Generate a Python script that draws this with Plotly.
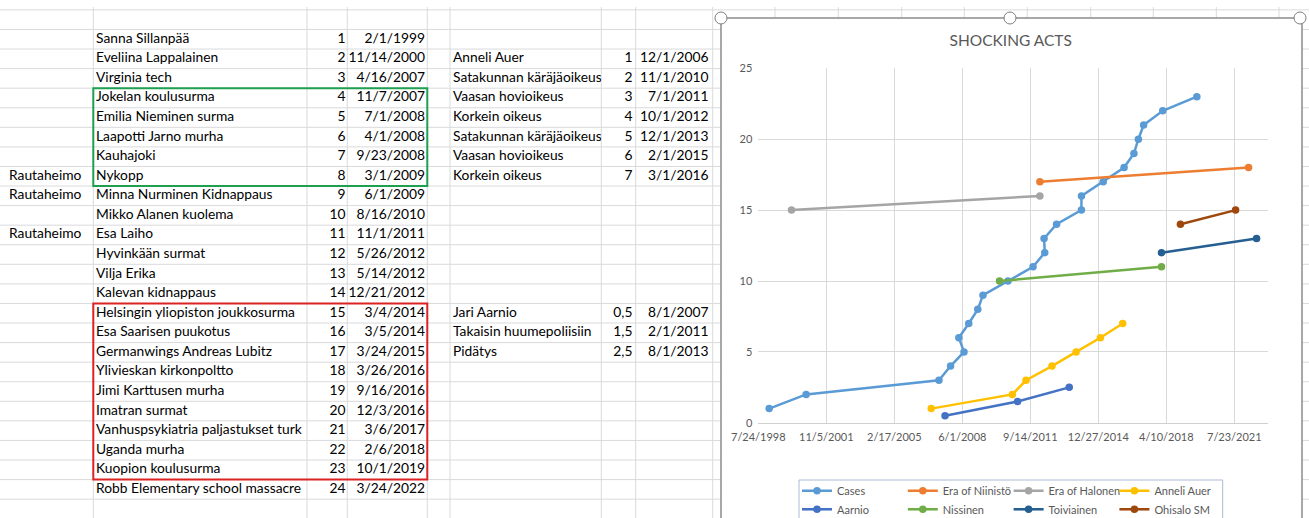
import datetime as dt
import plotly.graph_objects as go

W, H = 1309, 518

# ---------------- spreadsheet data ----------------
case_names = ["Sanna Sillanpää", "Eveliina Lappalainen", "Virginia tech", "Jokelan koulusurma",
              "Emilia Nieminen surma", "Laapotti Jarno murha", "Kauhajoki", "Nykopp",
              "Minna Nurminen Kidnappaus", "Mikko Alanen kuolema", "Esa Laiho", "Hyvinkään surmat",
              "Vilja Erika", "Kalevan kidnappaus", "Helsingin yliopiston joukkosurma",
              "Esa Saarisen puukotus", "Germanwings Andreas Lubitz", "Ylivieskan kirkonpoltto",
              "Jimi Karttusen murha", "Imatran surmat", "Vanhuspsykiatria paljastukset turk",
              "Uganda murha", "Kuopion koulusurma", "Robb Elementary school massacre"]
case_nums = [1, 2, 3, 4, 5, 6, 7, 8, 9, 10, 11, 12, 13, 14, 15, 16, 17, 18, 19, 20, 21, 22, 23, 24]
case_dates = ["2/1/1999", "11/14/2000", "4/16/2007", "11/7/2007", "7/1/2008", "4/1/2008",
              "9/23/2008", "3/1/2009", "6/1/2009", "8/16/2010", "11/1/2011", "5/26/2012",
              "5/14/2012", "12/21/2012", "3/4/2014", "3/5/2014", "3/24/2015", "3/26/2016",
              "9/16/2016", "12/3/2016", "3/6/2017", "2/6/2018", "10/1/2019", "3/24/2022"]
side_labels = ["Rautaheimo", "Rautaheimo", "Rautaheimo"]
side_case_rows = [8, 9, 11]

auer_labels = ["Anneli Auer", "Satakunnan käräjäoikeus", "Vaasan hovioikeus", "Korkein oikeus",
               "Satakunnan käräjäoikeus", "Vaasan hovioikeus", "Korkein oikeus"]
auer_nums = [1, 2, 3, 4, 5, 6, 7]
auer_dates = ["12/1/2006", "11/1/2010", "7/1/2011", "10/1/2012", "12/1/2013", "2/1/2015", "3/1/2016"]
auer_first_row = 2

aarnio_labels = ["Jari Aarnio", "Takaisin huumepoliisiin", "Pidätys"]
aarnio_vals = [0.5, 1.5, 2.5]
aarnio_dates = ["8/1/2007", "2/1/2011", "8/1/2013"]
aarnio_first_row = 15

# ---------------- chart-only series ----------------
niinisto_dates = ["2012-03-01", "2022-04-01"]
niinisto_vals = [17, 18]
halonen_dates = ["2000-03-01", "2012-03-01"]
halonen_vals = [15, 16]
nissinen_dates = ["2010-03-20", "2018-01-15"]
nissinen_vals = [10, 11]
toiviainen_dates = ["2018-01-15", "2022-08-20"]
toiviainen_vals = [12, 13]
ohisalo_dates = ["2018-12-15", "2021-08-15"]
ohisalo_vals = [14, 15]
cases_on_chart = 23

x_tick_dates = ["1998-07-24", "2001-11-05", "2005-02-17", "2008-06-01",
                "2011-09-14", "2014-12-27", "2018-04-10", "2021-07-23"]
x_tick_text = ["7/24/1998", "11/5/2001", "2/17/2005", "6/1/2008",
               "9/14/2011", "12/27/2014", "4/10/2018", "7/23/2021"]
x_range = ["1998-07-24", "2023-03-15"]

colors = {"Cases": "#5B9BD5", "Era of Niinistö": "#ED7D31", "Era of Halonen": "#A5A5A5",
          "Anneli Auer": "#FFC000", "Aarnio": "#4472C4", "Nissinen": "#70AD47",
          "Toiviainen": "#255E91", "Ohisalo SM": "#9E480E"}


def iso(d):
    return dt.datetime.strptime(d, "%m/%d/%Y").strftime("%Y-%m-%d")


# ---------------- geometry (pixels) ----------------
ROW0, ROWH = 9.9, 19.57
NROWS = 27
col_lines = [93.3, 307.0, 347.3, 427.3, 450.0, 601.3, 635.7, 712.7,
             775.0, 838.3, 901.7, 964.3, 1027.3, 1090.7, 1153.3, 1216.3, 1279.0]
CH_L, CH_T, CH_R = 721, 18, 1302
PL, PR, PT, PB = 758.3, 1268.3, 68.3, 422.8


def px(x):
    return x / W


def py(y):
    return 1 - y / H


def rowc(i):
    return ROW0 + ROWH * (i + 0.5)


FONT = "Lato"
TXT = dict(family=FONT, size=13.8, color="#000000")

fig = go.Figure()

# ---- spreadsheet text (pixel-space subplot x2/y2) ----
fig.add_trace(go.Scatter(x=[96.0] * len(case_names), y=[rowc(n) for n in case_nums],
                         text=case_names, mode="text", textposition="middle right",
                         textfont=TXT, xaxis="x2", yaxis="y2", showlegend=False, hoverinfo="skip"))
fig.add_trace(go.Scatter(x=[345.5] * len(case_nums), y=[rowc(n) for n in case_nums],
                         text=[str(n) for n in case_nums], mode="text", textposition="middle left",
                         textfont=TXT, xaxis="x2", yaxis="y2", showlegend=False, hoverinfo="skip"))
fig.add_trace(go.Scatter(x=[425.0] * len(case_dates), y=[rowc(n) for n in case_nums],
                         text=case_dates, mode="text", textposition="middle left",
                         textfont=TXT, xaxis="x2", yaxis="y2", showlegend=False, hoverinfo="skip"))
fig.add_trace(go.Scatter(x=[9.0] * len(side_labels), y=[rowc(n) for n in side_case_rows],
                         text=side_labels, mode="text", textposition="middle right",
                         textfont=TXT, xaxis="x2", yaxis="y2", showlegend=False, hoverinfo="skip"))

right_labels = auer_labels + aarnio_labels
right_rows = [auer_first_row + i for i in range(len(auer_labels))] + \
             [aarnio_first_row + i for i in range(len(aarnio_labels))]
right_nums = [str(n) for n in auer_nums] + [str(v).replace(".", ",") for v in aarnio_vals]
right_dates = auer_dates + aarnio_dates
fig.add_trace(go.Scatter(x=[453.0] * len(right_labels), y=[rowc(r) for r in right_rows],
                         text=right_labels, mode="text", textposition="middle right",
                         textfont=TXT, xaxis="x3", yaxis="y3", showlegend=False, hoverinfo="skip",
                         cliponaxis=True))
fig.add_trace(go.Scatter(x=[632.5] * len(right_nums), y=[rowc(r) for r in right_rows],
                         text=right_nums, mode="text", textposition="middle left",
                         textfont=TXT, xaxis="x2", yaxis="y2", showlegend=False, hoverinfo="skip"))
fig.add_trace(go.Scatter(x=[708.5] * len(right_dates), y=[rowc(r) for r in right_rows],
                         text=right_dates, mode="text", textposition="middle left",
                         textfont=TXT, xaxis="x2", yaxis="y2", showlegend=False, hoverinfo="skip"))

# ---- chart series ----
series = [
    ("Cases", [iso(d) for d in case_dates[:cases_on_chart]], case_nums[:cases_on_chart], "legend"),
    ("Era of Niinistö", niinisto_dates, niinisto_vals, "legend"),
    ("Era of Halonen", halonen_dates, halonen_vals, "legend"),
    ("Anneli Auer", [iso(d) for d in auer_dates], auer_nums, "legend"),
    ("Aarnio", [iso(d) for d in aarnio_dates], aarnio_vals, "legend2"),
    ("Nissinen", nissinen_dates, nissinen_vals, "legend2"),
    ("Toiviainen", toiviainen_dates, toiviainen_vals, "legend2"),
    ("Ohisalo SM", ohisalo_dates, ohisalo_vals, "legend2"),
]
for name, xs, ys, lg in series:
    fig.add_trace(go.Scatter(x=xs, y=ys, name=name, mode="lines+markers",
                             line=dict(color=colors[name], width=2.5),
                             marker=dict(color=colors[name], size=7.5),
                             xaxis="x", yaxis="y", legend=lg))

# ---------------- shapes ----------------
shapes = []
GRID = "#D9DADC"
for k in range(NROWS):
    y = ROW0 + ROWH * k
    shapes.append(dict(type="line", xref="paper", yref="paper", x0=0, x1=1, y0=py(y), y1=py(y),
                       line=dict(color=GRID, width=1), layer="below"))
for x in col_lines:
    shapes.append(dict(type="line", xref="paper", yref="paper", x0=px(x), x1=px(x), y0=py(7), y1=py(H),
                       line=dict(color=GRID, width=1), layer="below"))
# highlight boxes
shapes.append(dict(type="rect", xref="paper", yref="paper", x0=px(93.3), x1=px(427.3),
                   y0=py(ROW0 + ROWH * 4), y1=py(ROW0 + ROWH * 9),
                   line=dict(color="#1FA050", width=2), layer="above"))
shapes.append(dict(type="rect", xref="paper", yref="paper", x0=px(93.3), x1=px(427.3),
                   y0=py(ROW0 + ROWH * 15), y1=py(ROW0 + ROWH * 24),
                   line=dict(color="#DD2222", width=2), layer="above"))
# chart area
shapes.append(dict(type="rect", xref="paper", yref="paper", x0=px(CH_L), x1=px(CH_R), y0=py(CH_T), y1=py(H + 20),
                   fillcolor="white", line=dict(color="#8C8C8C", width=1.5), layer="below"))
# legend frame
shapes.append(dict(type="rect", xref="paper", yref="paper", x0=px(799), x1=px(1222.7), y0=py(480), y1=py(H + 10),
                   line=dict(color="#A9BBD3", width=1), layer="below"))
# selection handles
for hx in [CH_L, 1010, 1300]:
    shapes.append(dict(type="circle", xref="paper", yref="paper", x0=px(hx - 6), x1=px(hx + 6),
                       y0=py(CH_T - 6), y1=py(CH_T + 6), fillcolor="white",
                       line=dict(color="#7F7F7F", width=1), layer="above"))

TICKF = dict(family=FONT, size=11, color="#595959")
LEGF = dict(family=FONT, size=11, color="#595959")

fig.update_layout(
    width=W, height=H, margin=dict(l=0, r=0, t=0, b=0, pad=0, autoexpand=False), autosize=False,
    paper_bgcolor="white", plot_bgcolor="rgba(0,0,0,0)",
    shapes=shapes,
    title=dict(text="SHOCKING ACTS", x=1010.7 / W, y=py(41), xref="paper", yref="paper",
               xanchor="center", yanchor="middle", automargin=False,
               font=dict(family=FONT, size=15.5, color="#595959")),
    xaxis=dict(type="date", domain=[px(PL), px(PR)], range=x_range, anchor="y", automargin=False,
               tickvals=x_tick_dates, ticktext=x_tick_text, tickfont=TICKF,
               showgrid=True, gridcolor="#D9D9D9", gridwidth=1, showline=True, linecolor="#D0D0D0",
               ticks="", zeroline=False, fixedrange=True, ticklabelstandoff=4),
    yaxis=dict(domain=[py(PB), py(PT)], range=[0, 25], dtick=5, anchor="x", tickfont=TICKF, automargin=False,
               showgrid=True, gridcolor="#D9D9D9", gridwidth=1, showline=False, ticks="",
               zeroline=False, fixedrange=True, ticklabelstandoff=5),
    xaxis2=dict(domain=[0, 1], range=[0, W], anchor="y2", visible=False, fixedrange=True, automargin=False),
    yaxis2=dict(domain=[0, 1], range=[H, 0], anchor="x2", visible=False, fixedrange=True, automargin=False),
    xaxis3=dict(domain=[px(450.0), px(601.3)], range=[450.0, 601.3], anchor="y3", visible=False,
                fixedrange=True, automargin=False),
    yaxis3=dict(domain=[0, 1], range=[H, 0], anchor="x3", visible=False, fixedrange=True, automargin=False),
    legend=dict(orientation="h", x=px(797), xanchor="left", y=py(490.7), yanchor="middle",
                entrywidth=60.8, entrywidthmode="pixels", font=LEGF, bgcolor="rgba(0,0,0,0)",
                itemwidth=30, traceorder="normal"),
    legend2=dict(orientation="h", x=px(797), xanchor="left", y=py(509.3), yanchor="middle",
                 entrywidth=60.8, entrywidthmode="pixels", font=LEGF, bgcolor="rgba(0,0,0,0)",
                 itemwidth=30, traceorder="normal"),
)

fig.write_html("out.html", config={"displayModeBar": False},
               post_script="document.body.style.margin='0';document.body.style.overflow='hidden';")
